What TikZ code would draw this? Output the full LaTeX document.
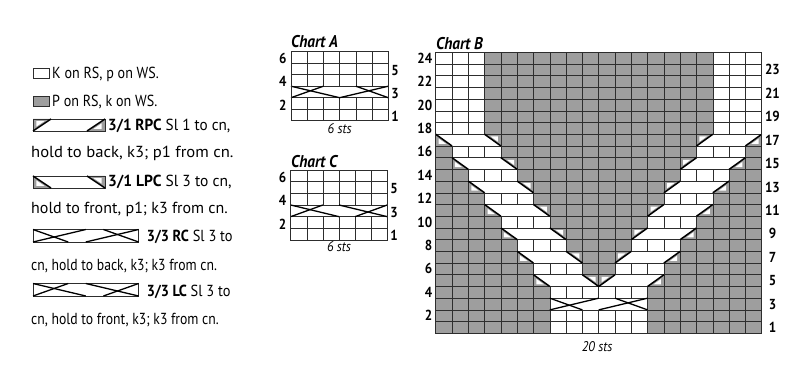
\documentclass[tikz,border=0pt]{standalone}
\usepackage{fontspec}
\setmainfont{PT Sans}
\newfontfamily\condfont{PT Sans}[FakeStretch=0.9]
\usetikzlibrary{calc}
\definecolor{purl}{RGB}{158,158,158}
\definecolor{gridc}{RGB}{45,45,45}
\newcommand{\ptri}[6]{%
  \fill[purl] (#1,#2) -- (#3,#4) -- (#5,#6) -- cycle;
  \coordinate (pc) at ({((#1)+(#3)+(#5))/3},{((#2)+(#4)+(#6))/3});
  \fill[white] ($(pc)!0.45!(#1,#2)$) -- ($(pc)!0.45!(#3,#4)$) -- ($(pc)!0.45!(#5,#6)$) -- cycle;
}
\newcommand{\xs}[2]{\scalebox{#1}[1]{#2}}
\begin{document}
\begin{tikzpicture}[x=1pt,y=-1pt,
  gridline/.style={draw=gridc,line width=0.6pt},
  border/.style={draw=gridc,line width=0.9pt},
  cablediag/.style={draw=black,line width=1.5pt},
  crossline/.style={draw=black,line width=1.3pt},
  legtext/.style={anchor=base west,inner sep=0pt,font=\fontsize{16}{16}\selectfont},
  rownum/.style={inner sep=0pt,font=\condfont\bfseries\fontsize{14.5}{14.5}\selectfont},
  charttitle/.style={anchor=base west,inner sep=0pt,font=\condfont\bfseries\itshape\fontsize{17}{17}\selectfont},
  stslabel/.style={inner sep=0pt,font=\condfont\itshape\fontsize{14}{14}\selectfont},
  keybox/.style={draw=gridc,line width=0.7pt,minimum width=16pt,minimum height=10pt,inner sep=0pt}]
\useasboundingbox[fill=white] (0,0) rectangle (795,366);

% ---------------- Legend ----------------
\node[keybox] (b1) at (41,73) {};
\node[legtext] (t1) at (52,79) {\xs{0.88}{K on RS, p on WS.}};
\node[keybox,fill=purl] (b2) at (41,101) {};
\node[legtext] (t2) at (52,106.5) {\xs{0.88}{P on RS, k on WS.}};

% 3/1 RPC symbol
\begin{scope}[shift={(33pt,-131pt)},x=18pt,y=12pt]
  \ptri{0}{0}{0}{1}{1}{1}
  \ptri{3}{0}{4}{0}{4}{1}
  \draw[gridline] (0,0) rectangle (4,1);
  \draw[cablediag] (0,0) -- (1,1);
  \draw[cablediag] (3,0) -- (4,1);
\end{scope}
\node[legtext] (t3) at (108,131) {\xs{0.95}{\textbf{3/1 RPC} Sl 1 to cn,}};
\node[legtext] (t4) at (31,157.5) {\xs{1.04}{hold to back, k3; p1 from cn.}};

% 3/1 LPC symbol
\begin{scope}[shift={(33pt,-188pt)},x=18pt,y=12pt]
  \ptri{0}{1}{0}{0}{1}{0}
  \ptri{3}{1}{4}{1}{4}{0}
  \draw[gridline] (0,0) rectangle (4,1);
  \draw[cablediag] (0,1) -- (1,0);
  \draw[cablediag] (3,1) -- (4,0);
\end{scope}
\node[legtext] (t5) at (108,187) {\xs{0.97}{\textbf{3/1 LPC} Sl 3 to cn,}};
\node[legtext] (t6) at (31,214) {hold to front, p1; k3 from cn.};

% 3/3 RC symbol
\begin{scope}[shift={(33pt,-242pt)},x=17.6pt,y=12.5pt]
  \draw[gridline] (0,0) rectangle (6,1);
  \draw[crossline] (0,0) -- (3,1);
  \draw[crossline] (0,1) -- (2,0);
  \draw[crossline] (3,0) -- (6,1);
  \draw[crossline] (6,0) -- (4,1);
\end{scope}
\node[legtext] (t7) at (146.7,241) {\xs{0.9}{\textbf{3/3 RC} Sl 3 to}};
\node[legtext] (t8) at (31,270) {\xs{0.855}{cn, hold to back, k3; k3 from cn.}};

% 3/3 LC symbol
\begin{scope}[shift={(33pt,-296pt)},x=17.6pt,y=12.5pt]
  \draw[gridline] (0,0) rectangle (6,1);
  \draw[crossline] (0,1) -- (3,0);
  \draw[crossline] (0,0) -- (2,1);
  \draw[crossline] (3,1) -- (6,0);
  \draw[crossline] (6,1) -- (4,0);
\end{scope}
\node[legtext] (t9) at (146.7,296) {\xs{0.9}{\textbf{3/3 LC} Sl 3 to}};
\node[legtext] (t10) at (31,324) {\xs{0.855}{cn, hold to front, k3; k3 from cn.}};

% ---------------- Chart A ----------------
\node[charttitle] (ta) at (291,48) {Chart A};
\begin{scope}[shift={(291pt,-120.7pt)},x=16.22pt,y=11.5pt]
  \foreach \xx in {0,...,6} \draw[gridline] (\xx,0) -- (\xx,6);
  \fill[white] (0.05,2) rectangle (5.95,3);
  \foreach \yy in {0,...,6} \draw[gridline] (0,\yy) -- (6,\yy);
  \draw[crossline] (0,3) -- (3,2);
  \draw[crossline] (0,2) -- (2,3);
  \draw[crossline] (3,2) -- (6,3);
  \draw[crossline] (6,2) -- (4,3);
  \draw[border] (0,0) rectangle (6,6);
  \foreach \n in {2,4,6} \node[rownum] (al\n) at (-0.5,\n-0.62) {\n};
  \foreach \n in {1,3,5} \node[rownum] (ar\n) at (6.42,\n-0.62) {\n};
  \node[stslabel] (as) at (3,-0.7) {6 sts};
\end{scope}

% ---------------- Chart C ----------------
\node[charttitle] (tc) at (291,167.5) {Chart C};
\begin{scope}[shift={(290.7pt,-240pt)},x=16.1pt,y=11.67pt]
  \foreach \xx in {0,...,6} \draw[gridline] (\xx,0) -- (\xx,6);
  \fill[white] (0.05,2) rectangle (5.95,3);
  \foreach \yy in {0,...,6} \draw[gridline] (0,\yy) -- (6,\yy);
  \draw[crossline] (0,3) -- (3,2);
  \draw[crossline] (0,2) -- (2,3);
  \draw[crossline] (3,3) -- (6,2);
  \draw[crossline] (6,3) -- (4,2);
  \draw[border] (0,0) rectangle (6,6);
  \foreach \n in {2,4,6} \node[rownum] (cl\n) at (-0.5,\n-0.62) {\n};
  \foreach \n in {1,3,5} \node[rownum] (cr\n) at (6.42,\n-0.62) {\n};
  \node[stslabel] (cs) at (3,-0.6) {6 sts};
\end{scope}

% ---------------- Chart B ----------------
\node[charttitle] (tb) at (436,49.5) {Chart B};
\begin{scope}[shift={(435.7pt,-333.3pt)},x=16.3pt,y=11.708pt]
  \fill[purl] (0,0) rectangle (7,4);
  \fill[purl] (13,0) rectangle (20,4);
  \fill[purl] (3,17) rectangle (17,24);
  \foreach \rw in {6,8,...,16}{
    \pgfmathtruncatemacro\kk{(16-\rw)/2}
    \fill[purl] (0,\rw-1) rectangle (1+\kk,\rw);
    \fill[purl] (4+\kk,\rw-1) rectangle (16-\kk,\rw);
    \fill[purl] (19-\kk,\rw-1) rectangle (20,\rw);
  }
  \foreach \rw in {5,7,...,17}{
    \pgfmathtruncatemacro\kk{(17-\rw)/2}
    \ifnum\kk>0
      \fill[purl] (0,\rw-1) rectangle (\kk,\rw);
      \fill[purl] (20-\kk,\rw-1) rectangle (20,\rw);
    \fi
    \ifnum\kk<6
      \fill[purl] (4+\kk,\rw-1) rectangle (16-\kk,\rw);
    \fi
    \ptri{\kk}{\rw}{\kk}{\rw-1}{\kk+1}{\rw-1}
    \ptri{\kk+3}{\rw}{\kk+4}{\rw}{\kk+4}{\rw-1}
    \ptri{16-\kk}{\rw-1}{16-\kk}{\rw}{17-\kk}{\rw}
    \ptri{19-\kk}{\rw-1}{20-\kk}{\rw-1}{20-\kk}{\rw}
  }
  \foreach \xx in {0,...,20} \draw[gridline] (\xx,0) -- (\xx,24);
  \foreach \rw in {5,7,...,17}{
    \pgfmathtruncatemacro\kk{(17-\rw)/2}
    \fill[white] (\kk,\rw) -- (\kk+3,\rw) -- (\kk+4,\rw-1) -- (\kk+1,\rw-1) -- cycle;
    \fill[white] (16-\kk,\rw-1) -- (19-\kk,\rw-1) -- (20-\kk,\rw) -- (17-\kk,\rw) -- cycle;
  }
  \fill[white] (7.05,2) rectangle (12.95,3);
  \foreach \yy in {0,...,24} \draw[gridline] (0,\yy) -- (20,\yy);
  \foreach \rw in {5,7,...,17}{
    \pgfmathtruncatemacro\kk{(17-\rw)/2}
    \draw[cablediag] (\kk,\rw) -- (\kk+1,\rw-1);
    \draw[cablediag] (\kk+3,\rw) -- (\kk+4,\rw-1);
    \draw[cablediag] (16-\kk,\rw-1) -- (17-\kk,\rw);
    \draw[cablediag] (19-\kk,\rw-1) -- (20-\kk,\rw);
  }
  \draw[crossline] (7,2) -- (10,3);
  \draw[crossline] (7,3) -- (9,2);
  \draw[crossline] (10,2) -- (13,3);
  \draw[crossline] (13,2) -- (11,3);
  \draw[border] (0,0) rectangle (20,24);
  \foreach \n in {2,4,...,24} \node[rownum,anchor=east] (bl\n) at (-0.2,\n-0.5) {\n};
  \foreach \n in {1,3,...,23} \node[rownum] (br\n) at (20.66,\n-0.5) {\n};
  \node[stslabel] (bs) at (9.9,-1.15) {20 sts};
\end{scope}
\end{tikzpicture}
\end{document}
